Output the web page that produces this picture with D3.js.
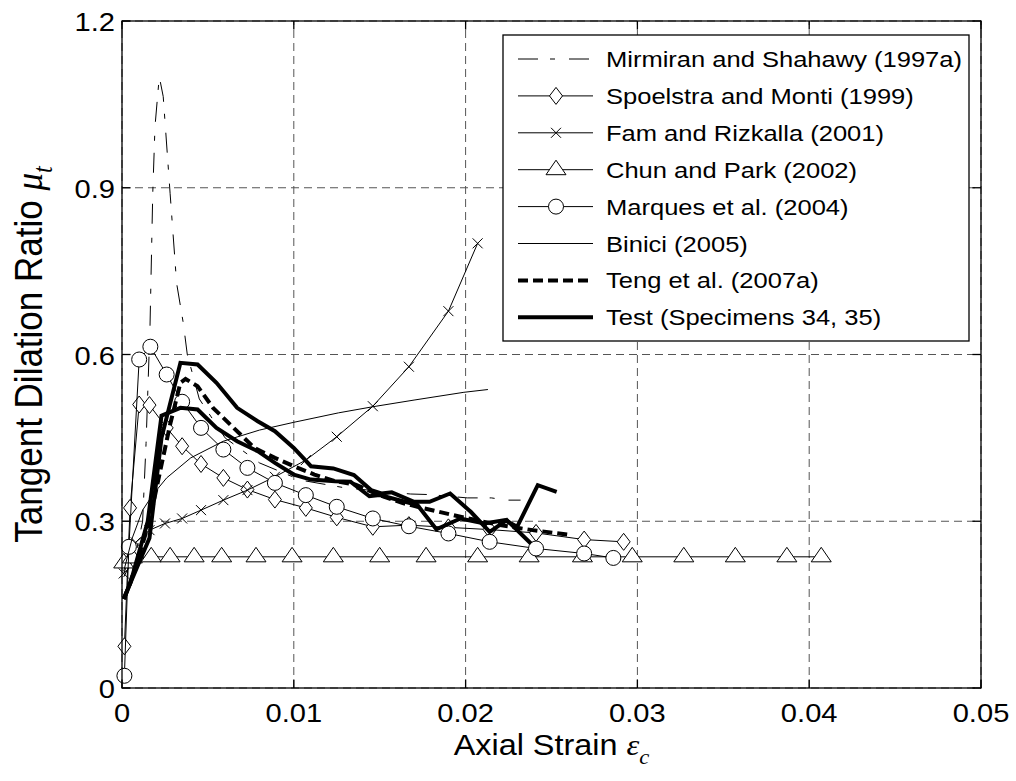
<!DOCTYPE html>
<html><head><meta charset="utf-8">
<script src="https://cdn.jsdelivr.net/npm/d3@7"></script>
<style>body{margin:0;background:#fff}svg{display:block}</style>
</head><body><svg id="c" width="1016" height="781"></svg>
<script>
// ---------- data ----------
const xTicks = [0, 0.01, 0.02, 0.03, 0.04, 0.05];
const xTickLabels = ["0", "0.01", "0.02", "0.03", "0.04", "0.05"];
const yTicks = [0, 0.3, 0.6, 0.9, 1.2];
const yTickLabels = ["0", "0.3", "0.6", "0.9", "1.2"];
const seriesNames = ["Mirmiran and Shahawy (1997a)", "Spoelstra and Monti (1999)", "Fam and Rizkalla (2001)",
  "Chun and Park (2002)", "Marques et al. (2004)", "Binici (2005)", "Teng et al. (2007a)", "Test (Specimens 34, 35)"];

const mirX = [0.0001, 0.0008, 0.0012, 0.0014, 0.00163, 0.00179, 0.00192, 0.00217, 0.0024, 0.0028, 0.00318, 0.00357, 0.0038, 0.0045, 0.006, 0.008, 0.0104, 0.013, 0.0168, 0.0179, 0.0201, 0.0215, 0.0224, 0.0232];
const mirY = [0.20, 0.24, 0.30, 0.44, 0.65, 0.89, 1.01, 1.10, 1.064, 0.89, 0.728, 0.656, 0.60, 0.52, 0.45, 0.405, 0.374, 0.36, 0.349, 0.348, 0.342, 0.342, 0.338, 0.338];

const spoX = [0.00014, 0.00047, 0.0010, 0.0016, 0.0026, 0.0035, 0.0046, 0.0059, 0.0073, 0.0089, 0.0107, 0.0125, 0.0146, 0.0167, 0.0190, 0.0214, 0.0241, 0.0269, 0.0292];
const spoY = [0.075, 0.324, 0.510, 0.509, 0.468, 0.435, 0.403, 0.378, 0.357, 0.339, 0.324, 0.307, 0.290, 0.293, 0.289, 0.285, 0.279, 0.267, 0.263];

const famX = [0.0001, 0.0008, 0.0016, 0.0025, 0.0035, 0.0046, 0.0059, 0.0073, 0.0089, 0.0107, 0.0125, 0.0146, 0.0167, 0.0190, 0.0207];
const famY = [0.206, 0.262, 0.284, 0.296, 0.305, 0.320, 0.338, 0.356, 0.380, 0.410, 0.452, 0.507, 0.578, 0.678, 0.800];

const chuX = [0.0001, 0.0006, 0.0017, 0.0028, 0.0042, 0.0058, 0.0078, 0.0099, 0.0123, 0.0150, 0.0177, 0.0207, 0.0237, 0.0268, 0.0297, 0.0327, 0.0357, 0.0387, 0.0407];
const chuY = [0.225, 0.234, 0.236, 0.236, 0.236, 0.236, 0.236, 0.236, 0.236, 0.236, 0.236, 0.236, 0.236, 0.236, 0.236, 0.236, 0.236, 0.236, 0.236];

const marX = [0.00014, 0.0004, 0.0010, 0.00165, 0.0026, 0.0035, 0.0046, 0.0059, 0.0073, 0.0089, 0.0107, 0.0125, 0.0146, 0.0167, 0.0190, 0.0214, 0.0241, 0.0269, 0.0286];
const marY = [0.022, 0.254, 0.591, 0.614, 0.564, 0.515, 0.468, 0.429, 0.396, 0.369, 0.347, 0.326, 0.305, 0.291, 0.278, 0.263, 0.251, 0.242, 0.234];

const binX = [0.0001, 0.0006, 0.0012, 0.0018, 0.0026, 0.0040, 0.0059, 0.0080, 0.0100, 0.0126, 0.0146, 0.0170, 0.0199, 0.0213];
const binY = [0.21, 0.27, 0.32, 0.348, 0.378, 0.414, 0.444, 0.464, 0.478, 0.495, 0.506, 0.518, 0.532, 0.537];

const tenX = [0.0001, 0.0004, 0.0009, 0.0016, 0.0028, 0.0034, 0.0037, 0.0044, 0.0053, 0.0065, 0.0077, 0.0089, 0.0100, 0.0112, 0.0124, 0.0136, 0.0149, 0.0163, 0.0172, 0.0197, 0.0220, 0.0239, 0.0262];
const tenY = [0.16, 0.182, 0.23, 0.30, 0.474, 0.549, 0.556, 0.543, 0.504, 0.468, 0.432, 0.414, 0.399, 0.384, 0.372, 0.366, 0.348, 0.333, 0.326, 0.308, 0.293, 0.284, 0.275];

const testAX = [0.0001, 0.0005, 0.0016, 0.0023, 0.0034, 0.0044, 0.0055, 0.0067, 0.0079, 0.0089, 0.0100, 0.0110, 0.0123, 0.0135, 0.0145, 0.0151, 0.0157, 0.0170, 0.0179, 0.0191, 0.0203, 0.0214, 0.0224, 0.0238];
const testAY = [0.16, 0.19, 0.27, 0.45, 0.585, 0.582, 0.549, 0.504, 0.480, 0.462, 0.432, 0.399, 0.395, 0.383, 0.356, 0.350, 0.352, 0.335, 0.335, 0.350, 0.317, 0.281, 0.302, 0.260];

const testBX = [0.0001, 0.0005, 0.0015, 0.0023, 0.0034, 0.0044, 0.0055, 0.0067, 0.0079, 0.0089, 0.0100, 0.0110, 0.0124, 0.0133, 0.0144, 0.0150, 0.0172, 0.0183, 0.0197, 0.0211, 0.0223, 0.0230, 0.0242, 0.0253];
const testBY = [0.16, 0.19, 0.30, 0.49, 0.504, 0.501, 0.468, 0.444, 0.426, 0.405, 0.384, 0.375, 0.372, 0.371, 0.345, 0.347, 0.329, 0.2855, 0.305, 0.296, 0.302, 0.290, 0.365, 0.353];

// ---------- layout ----------
const W = 1016, H = 781;
const M = {left: 122, right: 981, top: 21, bottom: 688};
const x = d3.scaleLinear().domain([0, 0.05]).range([M.left, M.right]);
const y = d3.scaleLinear().domain([0, 1.2]).range([M.bottom, M.top]);
const svg = d3.select("#c");
svg.append("rect").attr("width", W).attr("height", H).attr("fill", "#fff");

const FONT = "'Liberation Sans', Arial, Helvetica, sans-serif";
const SERIF = "'Liberation Serif', 'Times New Roman', serif";
const SX = 1.12; // horizontal stretch of the exported figure's text
const MIR_DASH = "20,12,5,14";
const THICK = 4;

// grid
const grid = svg.append("g").attr("stroke", "#555").attr("stroke-width", 1).attr("stroke-dasharray", "8,5").attr("fill", "none");
xTicks.forEach(t => grid.append("line").attr("x1", x(t)).attr("x2", x(t)).attr("y1", M.bottom).attr("y2", M.top));
yTicks.forEach(t => grid.append("line").attr("y1", y(t)).attr("y2", y(t)).attr("x1", M.left).attr("x2", M.right));

// series
const zip = (xs, ys) => xs.map((v, i) => [v, ys[i]]);
const line = d3.line().x(d => x(d[0])).y(d => y(d[1]));
const plot = svg.append("g");

const symDiamond = "M0,-8.5L6.5,0L0,8.5L-6.5,0Z";
const symTri = "M0,-9.5L10,5L-10,5Z";
const symX = "M-5,-5L5,5M-5,5L5,-5";

function drawSeries(g, data, opt) {
  g.append("path").datum(data).attr("d", line).attr("fill", "none")
    .attr("stroke", "#000").attr("stroke-width", opt.w || 1)
    .attr("stroke-dasharray", opt.dash || null).attr("stroke-linejoin", "miter");
  if (opt.marker) {
    g.selectAll(null).data(data).enter().append(opt.marker === "circle" ? "circle" : "path")
      .each(function(d) {
        const s = d3.select(this);
        if (opt.marker === "circle") s.attr("cx", x(d[0])).attr("cy", y(d[1])).attr("r", 7.5);
        else s.attr("transform", `translate(${x(d[0])},${y(d[1])})`).attr("d", opt.marker);
      })
      .attr("fill", opt.marker === symX ? "none" : "#fff").attr("stroke", "#000").attr("stroke-width", 1);
  }
}
drawSeries(plot.append("g"), zip(mirX, mirY), {dash: MIR_DASH});
drawSeries(plot.append("g"), zip(spoX, spoY), {marker: symDiamond});
drawSeries(plot.append("g"), zip(famX, famY), {marker: symX});
drawSeries(plot.append("g"), zip(chuX, chuY), {marker: symTri});
drawSeries(plot.append("g"), zip(marX, marY), {marker: "circle"});
drawSeries(plot.append("g"), zip(binX, binY), {});
drawSeries(plot.append("g"), zip(tenX, tenY), {w: THICK, dash: "10,5"});
drawSeries(plot.append("g"), zip(testAX, testAY), {w: THICK});
drawSeries(plot.append("g"), zip(testBX, testBY), {w: THICK});

// axes box and ticks
const ax = svg.append("g").attr("stroke", "#000").attr("stroke-width", 1.3).attr("fill", "none");
ax.append("rect").attr("x", M.left).attr("y", M.top).attr("width", M.right - M.left).attr("height", M.bottom - M.top);
const TL = 8.6;
xTicks.forEach(t => {
  ax.append("line").attr("x1", x(t)).attr("x2", x(t)).attr("y1", M.bottom).attr("y2", M.bottom - TL);
  ax.append("line").attr("x1", x(t)).attr("x2", x(t)).attr("y1", M.top).attr("y2", M.top + TL);
});
yTicks.forEach(t => {
  ax.append("line").attr("y1", y(t)).attr("y2", y(t)).attr("x1", M.left).attr("x2", M.left + TL);
  ax.append("line").attr("y1", y(t)).attr("y2", y(t)).attr("x1", M.right).attr("x2", M.right - TL);
});
// tick labels (stretched horizontally like the exported original)
const tl = svg.append("g").attr("font-family", FONT).attr("font-size", 26).attr("fill", "#000");
xTicks.forEach((t, i) => tl.append("text").attr("transform", `translate(${x(t)},722) scale(${SX},1)`)
  .attr("text-anchor", "middle").text(xTickLabels[i]));
yTicks.forEach((t, i) => tl.append("text").attr("transform", `translate(115,${y(t) + 10}) scale(${SX},1)`)
  .attr("text-anchor", "end").text(yTickLabels[i]));

// axis titles
const xt = svg.append("text").attr("transform", `translate(${(M.left + M.right) / 2},755) scale(1.08,1)`)
  .attr("text-anchor", "middle").attr("font-family", FONT).attr("font-size", 30);
xt.append("tspan").text("Axial Strain ");
xt.append("tspan").attr("font-family", SERIF).attr("font-style", "italic").text("ε");
xt.append("tspan").attr("font-family", SERIF).attr("font-style", "italic").attr("font-size", 21).attr("dy", 9).text("c");

const yt = svg.append("text").attr("transform", `translate(42,${(M.top + M.bottom) / 2}) scale(1.1,1) rotate(-90)`)
  .attr("text-anchor", "middle").attr("font-family", FONT).attr("font-size", 35);
yt.append("tspan").text("Tangent Dilation Ratio ");
yt.append("tspan").attr("font-family", SERIF).attr("font-style", "italic").text("μ");
yt.append("tspan").attr("font-family", SERIF).attr("font-style", "italic").attr("font-size", 24).attr("dy", 9).text("t");

// legend
const LG = {x: 503, y: 35, w: 466, h: 306};
const lg = svg.append("g");
lg.append("rect").attr("x", LG.x).attr("y", LG.y).attr("width", LG.w).attr("height", LG.h)
  .attr("fill", "#fff").attr("stroke", "#000").attr("stroke-width", 1.3);
const legStyles = [
  {dash: MIR_DASH}, {marker: symDiamond}, {marker: symX}, {marker: symTri},
  {marker: "circle"}, {}, {w: THICK, dash: "10,5"}, {w: THICK}
];
seriesNames.forEach((name, i) => {
  const cy = 59 + i * 36.9;
  const g = lg.append("g");
  g.append("line").attr("x1", 518).attr("x2", 593).attr("y1", cy).attr("y2", cy)
    .attr("stroke", "#000").attr("stroke-width", legStyles[i].w || 1).attr("stroke-dasharray", legStyles[i].dash || null);
  const m = legStyles[i].marker;
  if (m === "circle") g.append("circle").attr("cx", 556).attr("cy", cy).attr("r", 7.5).attr("fill", "#fff").attr("stroke", "#000");
  else if (m) g.append("path").attr("d", m).attr("transform", `translate(556,${cy})`).attr("fill", m === symX ? "none" : "#fff").attr("stroke", "#000");
  g.append("text").attr("transform", `translate(606,${cy + 8}) scale(${SX},1)`)
    .attr("font-family", FONT).attr("font-size", 22.8).text(name);
});
</script></body></html>
